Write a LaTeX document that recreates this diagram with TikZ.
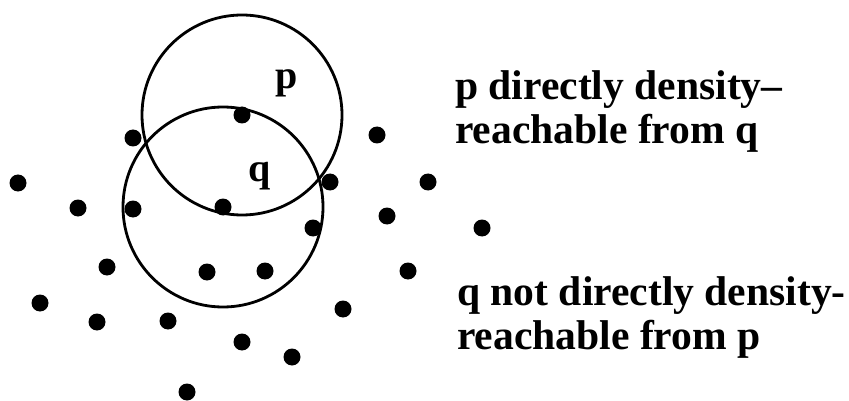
\documentclass[tikz,border=0pt]{standalone}
\usepackage{fontspec}
\setmainfont{Liberation Serif}
\usetikzlibrary{positioning}

\begin{document}
\begin{tikzpicture}[x=1pt, y=-1pt,
  dot/.style={circle, fill, inner sep=0pt, minimum size=17pt},
  ring/.style={line width=2.8pt},
  lbl/.style={font=\fontsize{40}{43}\selectfont\bfseries, inner sep=0pt},
  note/.style={font=\fontsize{41.6}{44}\selectfont\bfseries, align=left,
               inner sep=0pt, anchor=north west}
]
\useasboundingbox (0,0) rectangle (849,401);

% Core points
\node[dot] (p) at (242,115) {};
\node[dot] (q) at (223,207) {};

% Neighbourhoods
\draw[ring] (p) circle[radius=100];
\draw[ring] (q) circle[radius=100];

% Point labels
\node[lbl] (plabel) at (287,83) {p};
\node[lbl] (qlabel) at (260,176) {q};

% Remaining points
\foreach \x/\y [count=\i] in {133/138, 377/135, 18/183, 330/182, 428/182,
    78/208, 133/209, 387/216, 313/228, 482/228, 107/267, 207/272,
    265/271, 408/271, 40/303, 97/322, 168/321, 343/309, 242/342,
    292/357, 187/392}
  \node[dot] (n\i) at (\x,\y) {};

% Captions
\node[note] (reach) at (455,70) {p directly density–\\reachable from q};
\node[note] (noreach) at (457,276) {q not directly density-\\reachable from p};

\end{tikzpicture}
\end{document}
